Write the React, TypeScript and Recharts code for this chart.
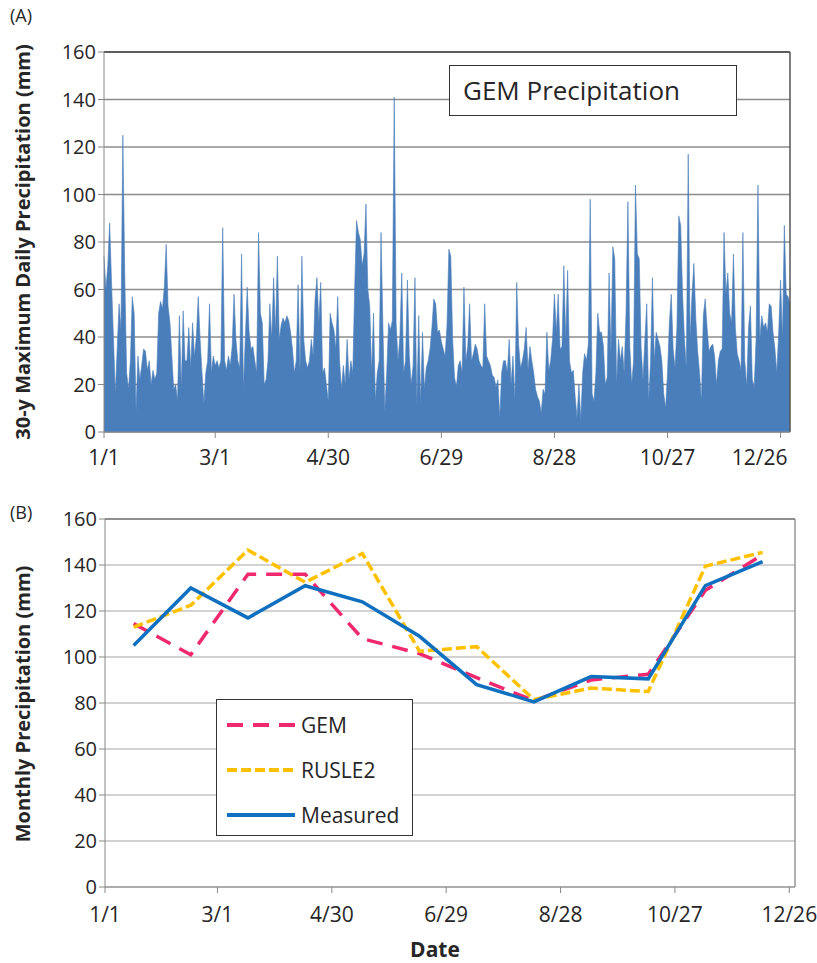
import {
  AreaChart,
  Area,
  LineChart,
  Line,
  XAxis,
  YAxis,
  CartesianGrid,
  Legend,
  ReferenceLine,
} from 'recharts';

const FONT = '"Open Sans", "Noto Sans", sans-serif';
const TEXT = '#262626';

// Panel A: 30-y maximum daily precipitation (mm), one value per day, read in ~2 month blocks
const precipJanFeb = [
  74, 60, 70, 88, 63, 40, 16, 35, 54, 43, 125, 67, 25, 18, 30, 57, 50, 9, 32, 22, 28, 35, 34, 26, 30, 20,
  26, 22, 25, 50, 55, 52, 61, 79, 53, 46, 32, 18, 20, 13, 49, 18, 51, 30, 30, 44, 27, 46, 32, 40, 57, 39,
  25, 12, 25, 30, 54, 25, 32, 28, 30, 27,
];
const precipMarApr = [
  30, 86, 30, 26, 32, 28, 36, 58, 39, 30, 27, 75, 18, 40, 61, 42, 35, 36, 30, 25, 84, 50, 46, 20, 22, 30,
  54, 39, 65, 42, 74, 39, 45, 48, 46, 49, 47, 42, 35, 25, 30, 62, 25, 74, 39, 30, 27, 30, 39, 32, 56, 65,
  46, 63, 25, 27, 20, 13, 50, 46, 43,
];
const precipMayJun = [
  35, 57, 30, 18, 28, 20, 39, 22, 30, 25, 60, 89, 84, 81, 70, 75, 96, 60, 53, 25, 50, 13, 25, 30, 84, 44,
  9, 25, 46, 43, 47, 141, 46, 30, 40, 67, 25, 30, 64, 32, 20, 28, 65, 12, 49, 12, 42, 18, 27, 30, 35, 44,
  56, 54, 42, 43, 38, 35, 32, 45, 77, 74,
];
const precipJulAug = [
  39, 23, 19, 28, 30, 25, 61, 30, 36, 54, 30, 33, 37, 35, 30, 28, 27, 54, 32, 30, 28, 24, 23, 19, 22, 6,
  25, 30, 30, 25, 39, 20, 32, 13, 63, 37, 27, 30, 35, 44, 26, 36, 30, 25, 18, 15, 13, 8, 18, 16, 42, 26,
  30, 39, 58, 42, 58, 35, 36, 70, 39,
];
const precipSepOct = [
  68, 30, 25, 26, 15, 6, 20, 5, 25, 33, 30, 37, 98, 16, 13, 25, 50, 42, 42, 36, 20, 23, 67, 33, 78, 73,
  20, 39, 30, 36, 25, 50, 97, 36, 20, 30, 104, 75, 73, 36, 22, 39, 54, 13, 29, 65, 30, 42, 39, 36, 30,
  16, 10, 25, 46, 58, 35, 27, 44, 91, 87,
];
const precipNovDec = [
  58, 39, 27, 117, 39, 58, 71, 48, 34, 25, 13, 49, 56, 44, 34, 36, 37, 32, 20, 30, 34, 35, 84, 58, 67, 50,
  46, 75, 44, 33, 30, 26, 84, 30, 19, 44, 53, 22, 19, 39, 104, 39, 49, 44, 46, 42, 54, 53, 42, 35, 25,
  42, 64, 39, 87, 58, 57, 54,
];

const dailyPrecip = [
  ...precipJanFeb,
  ...precipMarApr,
  ...precipMayJun,
  ...precipJulAug,
  ...precipSepOct,
  ...precipNovDec,
];

const tickDays = [0, 59, 119, 179, 239, 299, 359];
const tickLabels = ['1/1', '3/1', '4/30', '6/29', '8/28', '10/27', '12/26'];
const yTicks = [0, 20, 40, 60, 80, 100, 120, 140, 160];

// Panel B: monthly precipitation (mm), plotted mid-month
const monthDays = [15, 45, 75, 105, 135, 165, 195, 225, 255, 285, 315, 345];
const gemMonthly = [114.5, 101, 136, 136, 108, 101.5, 91, 81, 90, 92.5, 129, 144.5];
const rusle2Monthly = [113, 122.5, 146.5, 132.5, 145, 102.5, 104.5, 81.5, 86.5, 85, 139.5, 145.5];
const measuredMonthly = [105, 130, 117, 131, 124, 109, 88, 80.5, 91.5, 90.5, 131, 141.5];

const series = [
  { key: 'gem', name: 'GEM', color: '#f0286e', dash: '16 10' },
  { key: 'rusle2', name: 'RUSLE2', color: '#ffc000', dash: '10 4' },
  { key: 'measured', name: 'Measured', color: '#0f70c0', dash: undefined },
];

const dailyData = dailyPrecip.map((v, i) => ({ day: i, precip: v }));
const monthlyData = monthDays.map((d, i) => ({
  day: d,
  gem: gemMonthly[i],
  rusle2: rusle2Monthly[i],
  measured: measuredMonthly[i],
}));

const DateTick = ({ x, y, payload, dy, shiftLast }: any) => {
  const i = tickDays.indexOf(payload.value);
  const isLast = shiftLast && i === tickDays.length - 1;
  return (
    <text
      x={isLast ? x + 7 : x}
      y={y}
      dy={dy}
      textAnchor={isLast ? 'end' : 'middle'}
      fill={TEXT}
      fontSize={21}
      fontFamily={FONT}
    >
      {tickLabels[i]}
    </text>
  );
};

const TitleBox = ({ payload }: any) => (
  <div
    style={{
      width: 288,
      height: 51,
      boxSizing: 'border-box',
      border: '1.5px solid #333',
      background: '#fff',
      fontFamily: FONT,
      fontSize: 26,
      color: TEXT,
      paddingLeft: 13,
      lineHeight: '48px',
      whiteSpace: 'nowrap',
    }}
  >
    {payload && payload[0] ? payload[0].value : ''}
  </div>
);

const SeriesLegend = ({ payload }: any) => {
  // keep the legend in the series order (GEM, RUSLE2, Measured)
  const items = series
    .map((s) => ({ s, entry: (payload || []).find((e: any) => e.dataKey === s.key) }))
    .filter((it) => it.entry);
  return (
    <div
      style={{
        width: 197,
        height: 137,
        boxSizing: 'border-box',
        border: '1.5px solid #333',
        background: '#fff',
        paddingTop: 2,
        paddingLeft: 10,
      }}
    >
      {items.map(({ s, entry }) => (
        <div key={s.key} style={{ display: 'flex', alignItems: 'center', height: 45 }}>
          <svg width={70} height={10}>
            <line x1={0} y1={5} x2={68} y2={5} stroke={s.color} strokeWidth={4} strokeDasharray={s.dash} />
          </svg>
          <span style={{ marginLeft: 4, fontFamily: FONT, fontSize: 21, color: TEXT }}>{entry.value}</span>
        </div>
      ))}
    </div>
  );
};

const axisText = { fontSize: 20, fill: TEXT, fontFamily: FONT };

const App = () => {
  return (
    <div style={{ position: 'absolute', left: 0, top: 0, width: 817, height: 963, background: '#fff', overflow: 'hidden' }}>
      <div style={{ position: 'absolute', left: 10, top: 3, fontFamily: FONT, fontSize: 18, color: TEXT }}>(A)</div>
      <div style={{ position: 'absolute', left: 10, top: 500, fontFamily: FONT, fontSize: 18, color: TEXT }}>(B)</div>
      <div
        style={{
          position: 'absolute',
          left: 22,
          top: 242,
          transform: 'translate(-50%, -50%) rotate(-90deg)',
          whiteSpace: 'nowrap',
          fontFamily: FONT,
          fontWeight: 700,
          fontSize: 20,
          color: TEXT,
        }}
      >
        30-y Maximum Daily Precipitation (mm)
      </div>
      <div
        style={{
          position: 'absolute',
          left: 22,
          top: 704,
          transform: 'translate(-50%, -50%) rotate(-90deg)',
          whiteSpace: 'nowrap',
          fontFamily: FONT,
          fontWeight: 700,
          fontSize: 20,
          color: TEXT,
        }}
      >
        Monthly Precipitation (mm)
      </div>
      <div
        style={{
          position: 'absolute',
          left: 435,
          top: 949,
          transform: 'translate(-50%, -50%)',
          fontFamily: FONT,
          fontWeight: 700,
          fontSize: 21,
          color: TEXT,
        }}
      >
        Date
      </div>

      <div style={{ position: 'absolute', left: 0, top: 0 }}>
        <AreaChart width={817} height={475} data={dailyData} margin={{ top: 52, right: 27, bottom: 13, left: 54 }}>
          <CartesianGrid vertical={false} stroke="#8c8c8c" strokeWidth={1.3} />
          <XAxis
            type="number"
            dataKey="day"
            domain={[0, 364]}
            ticks={tickDays}
            interval={0}
            height={30}
            stroke="#888"
            tickSize={6}
            tickMargin={4}
            tick={(p: any) => <DateTick {...p} dy={23} shiftLast />}
          />
          <YAxis
            domain={[0, 160]}
            ticks={yTicks}
            interval={0}
            width={50}
            stroke="#888"
            tickSize={6}
            tick={axisText}
          />
          <Area
            type="linear"
            dataKey="precip"
            name="GEM Precipitation"
            stroke="#4a7ebb"
            strokeWidth={0.6}
            fill="#4a7ebb"
            fillOpacity={1}
            isAnimationActive={false}
          />
          <ReferenceLine y={160} stroke="#444" strokeWidth={1.5} />
          <ReferenceLine x={364} stroke="#555" strokeWidth={1.5} />
          <Legend
            layout="horizontal"
            verticalAlign="middle"
            align="center"
            content={<TitleBox />}
            wrapperStyle={{ left: 449, top: 65, width: 288, height: 51 }}
          />
        </AreaChart>
      </div>

      <div style={{ position: 'absolute', left: 0, top: 480 }}>
        <LineChart width={817} height={483} data={monthlyData} margin={{ top: 39, right: 22, bottom: 46, left: 55 }}>
          <CartesianGrid vertical={false} stroke="#a6a6a6" strokeWidth={1.2} />
          <XAxis
            type="number"
            dataKey="day"
            domain={[0, 362]}
            ticks={tickDays}
            interval={0}
            height={30}
            stroke="#888"
            tickSize={6}
            tickMargin={4}
            tick={(p: any) => <DateTick {...p} dy={25} />}
          />
          <YAxis
            domain={[0, 160]}
            ticks={yTicks}
            interval={0}
            width={50}
            stroke="#888"
            tickSize={6}
            tick={axisText}
          />
          <ReferenceLine y={160} stroke="#777" strokeWidth={1.3} />
          <ReferenceLine x={362} stroke="#888" strokeWidth={1.3} />
          {series.map((s) => (
            <Line
              key={s.key}
              type="linear"
              dataKey={s.key}
              name={s.name}
              stroke={s.color}
              strokeWidth={3.5}
              strokeDasharray={s.dash}
              dot={false}
              isAnimationActive={false}
            />
          ))}
          <Legend
            layout="horizontal"
            verticalAlign="middle"
            align="center"
            content={<SeriesLegend />}
            wrapperStyle={{ left: 216, top: 219, width: 197, height: 137 }}
          />
        </LineChart>
      </div>
    </div>
  );
};

export default App;
